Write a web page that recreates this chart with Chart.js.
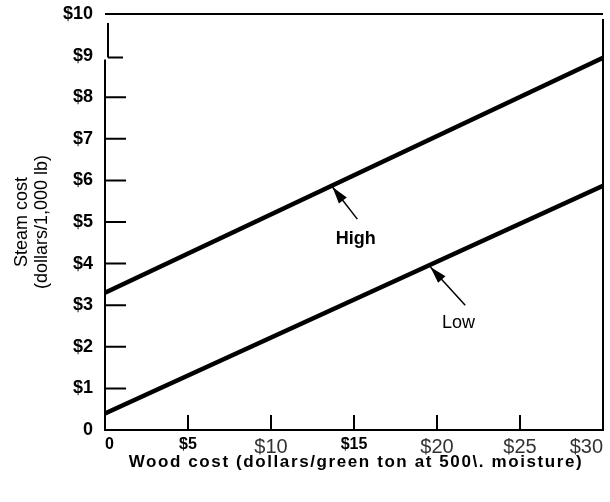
<!DOCTYPE html>
<html>
<head>
<meta charset="utf-8">
<script src="https://cdn.jsdelivr.net/npm/chart.js@4.4.0/dist/chart.umd.min.js"></script>
<style>
  html, body { margin: 0; padding: 0; background: #fff; }
  #wrap { width: 610px; height: 502px; position: relative; }
</style>
</head>
<body>
<div id="wrap"><canvas id="chart"></canvas></div>
<script>
// ==== DATA ====
var woodCost = [0, 30];
var highSteam = [3.3, 8.95];
var lowSteam = [0.4, 5.87];
var xTickLabels = ['0', '$5', '$10', '$15', '$20', '$25', '$30'];
var xTickBold = [true, true, false, true, false, false, false];
var yTickLabels = ['0', '$1', '$2', '$3', '$4', '$5', '$6', '$7', '$8', '$9', '$10'];
var xTitle = 'Wood cost (dollars/green ton at 500\\. moisture)';
// arrow notes: [label, tipX, tipY, tailX, tailY, labelX, labelY, bold]
var noteHigh = ['High', 13.7, 5.84, 15.2, 5.07, 15.1, 4.6, true];
var noteLow = ['Low', 19.6, 3.92, 21.7, 3.0, 21.3, 2.57, false];

var SANS = '"Liberation Sans", Arial, sans-serif';
var NARROW = '"Liberation Sans Narrow", "Liberation Sans", Arial, sans-serif';

function pts(xs, ys) { return xs.map(function (x, i) { return { x: x, y: ys[i] }; }); }

// ==== EXTRA DRAWING (frame, inner ticks, arrows, x title) ====
var extras = {
  id: 'extras',
  afterDatasetsDraw: function (chart) {
    var c = chart.ctx, a = chart.chartArea, xs = chart.scales.x, ys = chart.scales.y;
    var y9 = ys.getPixelForValue(9);
    c.save();
    c.strokeStyle = '#000'; c.lineWidth = 2;
    c.beginPath();
    c.moveTo(a.left, a.top); c.lineTo(a.right, a.top);
    c.moveTo(a.right, a.top + 5); c.lineTo(a.right, a.bottom);
    // broken left axis, as in the print
    c.moveTo(a.left, a.bottom); c.lineTo(a.left, y9 + 4);
    c.moveTo(a.left + 3, a.top + 9); c.lineTo(a.left + 3, y9 + 2);
    c.stroke();
    // y ticks inward
    c.beginPath();
    for (var v = 1; v <= 9; v++) {
      var py = ys.getPixelForValue(v) + (v === 9 ? 2 : 0);
      c.moveTo(v === 9 ? a.left + 3 : a.left, py); c.lineTo(a.left + (v === 9 ? 18 : 21), py);
    }
    // x ticks upward
    for (var w = 5; w <= 25; w += 5) {
      var px = xs.getPixelForValue(w);
      c.moveTo(px, a.bottom); c.lineTo(px, a.bottom - 15);
    }
    c.stroke();
    [noteHigh, noteLow].forEach(function (n) {
      var tx = xs.getPixelForValue(n[1]), ty = ys.getPixelForValue(n[2]);
      var sx = xs.getPixelForValue(n[3]), sy = ys.getPixelForValue(n[4]);
      var ang = Math.atan2(ty - sy, tx - sx);
      c.lineWidth = 1.5;
      c.beginPath(); c.moveTo(sx, sy); c.lineTo(tx, ty); c.stroke();
      c.fillStyle = '#000';
      c.beginPath();
      c.moveTo(tx, ty);
      c.lineTo(tx - 17 * Math.cos(ang) + 5 * Math.sin(ang), ty - 17 * Math.sin(ang) - 5 * Math.cos(ang));
      c.lineTo(tx - 17 * Math.cos(ang) - 5 * Math.sin(ang), ty - 17 * Math.sin(ang) + 5 * Math.cos(ang));
      c.closePath(); c.fill();
      c.font = (n[7] ? 'bold ' : '') + '18px ' + SANS;
      c.textAlign = 'center'; c.textBaseline = 'middle';
      c.fillText(n[0], xs.getPixelForValue(n[5]), ys.getPixelForValue(n[6]));
    });
    // x axis title with letter spacing
    c.font = 'bold 17px ' + SANS;
    c.letterSpacing = '1.6px';
    c.textAlign = 'center'; c.textBaseline = 'middle';
    c.fillText(xTitle, (a.left + a.right) / 2 + 2, 462);
    c.restore();
  }
};

new Chart(document.getElementById('chart').getContext('2d'), {
  type: 'line',
  data: {
    datasets: [
      { label: 'High', data: pts(woodCost, highSteam), borderColor: '#000', borderWidth: 4.5, pointRadius: 0, fill: false },
      { label: 'Low', data: pts(woodCost, lowSteam), borderColor: '#000', borderWidth: 4.5, pointRadius: 0, fill: false }
    ]
  },
  options: {
    responsive: true, maintainAspectRatio: false, animation: false,
    layout: { autoPadding: false, padding: { top: 14, right: 7, left: 0, bottom: 0 } },
    plugins: { legend: { display: false }, tooltip: { enabled: false } },
    scales: {
      x: {
        type: 'linear', min: 0, max: 30,
        afterFit: function (s) { s.height = 72; s.paddingLeft = 0; s.paddingRight = 0; },
        grid: { display: false, drawTicks: false },
        border: { display: true, color: '#000', width: 2 },
        ticks: {
          stepSize: 5, padding: 5, maxRotation: 0, autoSkip: false, align: 'inner',
          callback: function (v, i) { return xTickLabels[i]; },
          color: function (ctx) { return xTickBold[ctx.index] ? '#000' : '#333'; },
          font: function (ctx) {
            return xTickBold[ctx.index] ? { family: SANS, size: 16, weight: 'bold' }
                                        : { family: NARROW, size: 20, weight: 'normal' };
          }
        }
      },
      y: {
        min: 0, max: 10,
        afterFit: function (s) { s.width = 105; s.paddingTop = 0; s.paddingBottom = 0; },
        grid: { display: false, drawTicks: false },
        border: { display: false },
        ticks: {
          stepSize: 1, padding: 12, color: '#000',
          callback: function (v, i) { return yTickLabels[i]; },
          font: { family: SANS, size: 18, weight: 'bold' }
        },
        title: { display: true, text: ['Steam cost', '(dollars/1,000 lb)'], color: '#000',
          font: { family: SANS, size: 18, lineHeight: 1.1 }, padding: { top: 12, bottom: 0 } }
      }
    }
  },
  plugins: [extras]
});
</script>
</body>
</html>
